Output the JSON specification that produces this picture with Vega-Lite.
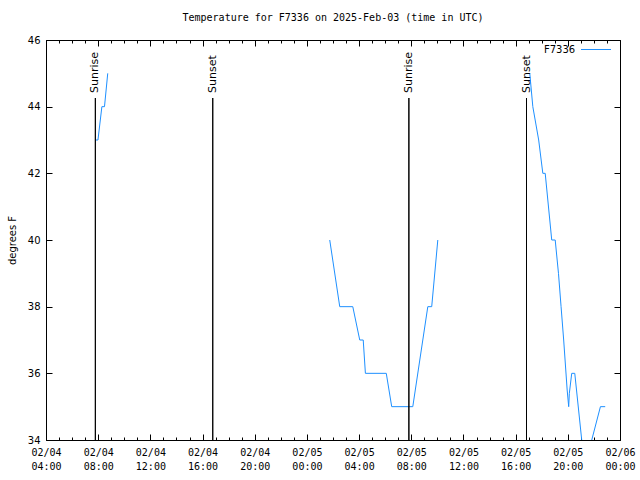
{
  "$schema": "https://vega.github.io/schema/vega-lite/v6.json",
  "width": 574,
  "height": 400,
  "autosize": "none",
  "padding": {"left": 46, "top": 40, "right": 20, "bottom": 40},
  "background": "white",
  "title": {
    "text": "Temperature for F7336 on 2025-Feb-03 (time in UTC)",
    "font": "DejaVu Sans Mono",
    "fontSize": 10,
    "fontWeight": "normal",
    "color": "black",
    "anchor": "middle",
    "offset": 11
  },
  "config": {
    "view": {"stroke": "black", "strokeWidth": 1},
    "axis": {"domain": false, "grid": false, "tickColor": "black", "labelColor": "black", "titleColor": "black"}
  },
  "datasets": {
    "temps": [
      {"seg": "a", "time": "2025-02-04T07:48:00Z", "temp": 43},
      {"seg": "a", "time": "2025-02-04T07:59:00Z", "temp": 43},
      {"seg": "a", "time": "2025-02-04T08:17:00Z", "temp": 44},
      {"seg": "a", "time": "2025-02-04T08:29:00Z", "temp": 44},
      {"seg": "a", "time": "2025-02-04T08:44:00Z", "temp": 45},
      {"seg": "b", "time": "2025-02-05T01:45:00Z", "temp": 40},
      {"seg": "b", "time": "2025-02-05T02:31:00Z", "temp": 38},
      {"seg": "b", "time": "2025-02-05T03:31:00Z", "temp": 38},
      {"seg": "b", "time": "2025-02-05T04:03:00Z", "temp": 37},
      {"seg": "b", "time": "2025-02-05T04:19:00Z", "temp": 37},
      {"seg": "b", "time": "2025-02-05T04:29:00Z", "temp": 36},
      {"seg": "b", "time": "2025-02-05T06:05:00Z", "temp": 36},
      {"seg": "b", "time": "2025-02-05T06:30:00Z", "temp": 35},
      {"seg": "b", "time": "2025-02-05T08:07:00Z", "temp": 35},
      {"seg": "b", "time": "2025-02-05T09:16:00Z", "temp": 38},
      {"seg": "b", "time": "2025-02-05T09:34:00Z", "temp": 38},
      {"seg": "b", "time": "2025-02-05T10:02:00Z", "temp": 40},
      {"seg": "c", "time": "2025-02-05T17:05:00Z", "temp": 45},
      {"seg": "c", "time": "2025-02-05T17:19:00Z", "temp": 44},
      {"seg": "c", "time": "2025-02-05T17:46:00Z", "temp": 43},
      {"seg": "c", "time": "2025-02-05T18:05:00Z", "temp": 42},
      {"seg": "c", "time": "2025-02-05T18:16:00Z", "temp": 42},
      {"seg": "c", "time": "2025-02-05T18:46:00Z", "temp": 40},
      {"seg": "c", "time": "2025-02-05T19:02:00Z", "temp": 40},
      {"seg": "c", "time": "2025-02-05T19:17:00Z", "temp": 39},
      {"seg": "c", "time": "2025-02-05T19:29:00Z", "temp": 38},
      {"seg": "c", "time": "2025-02-05T19:41:00Z", "temp": 37},
      {"seg": "c", "time": "2025-02-05T19:57:00Z", "temp": 35.5},
      {"seg": "c", "time": "2025-02-05T20:04:00Z", "temp": 35},
      {"seg": "c", "time": "2025-02-05T20:07:00Z", "temp": 35.4},
      {"seg": "c", "time": "2025-02-05T20:18:00Z", "temp": 36},
      {"seg": "c", "time": "2025-02-05T20:32:00Z", "temp": 36},
      {"seg": "c", "time": "2025-02-05T21:04:00Z", "temp": 34},
      {"seg": "c", "time": "2025-02-05T21:16:00Z", "temp": 33.8},
      {"seg": "c", "time": "2025-02-05T21:35:00Z", "temp": 33.8},
      {"seg": "c", "time": "2025-02-05T21:50:00Z", "temp": 34},
      {"seg": "c", "time": "2025-02-05T22:30:00Z", "temp": 35},
      {"seg": "c", "time": "2025-02-05T22:52:00Z", "temp": 35}
    ],
    "events": [
      {"label": "Sunrise", "time": "2025-02-04T07:47:00Z", "base": 34, "top": 44.26},
      {"label": "Sunset", "time": "2025-02-04T16:47:00Z", "base": 34, "top": 44.26},
      {"label": "Sunrise", "time": "2025-02-05T07:49:00Z", "base": 34, "top": 44.26},
      {"label": "Sunset", "time": "2025-02-05T16:50:00Z", "base": 34, "top": 44.26}
    ]
  },
  "resolve": {"axis": {"x": "independent", "y": "independent"}},
  "layer": [
    {
      "data": {"name": "temps"},
      "mark": {"type": "line", "clip": true, "strokeWidth": 1},
      "encoding": {
        "x": {
          "field": "time", "type": "temporal",
          "scale": {"type": "utc", "nice": false, "domain": [1738641600000, 1738800000000]},
          "axis": {
            "orient": "bottom", "title": null,
            "values": [1738641600000, 1738656000000, 1738670400000, 1738684800000, 1738699200000, 1738713600000, 1738728000000, 1738742400000, 1738756800000, 1738771200000, 1738785600000, 1738800000000],
            "tickSize": -6,
            "labelExpr": "[utcFormat(datum.value, '%m/%d'), utcFormat(datum.value, '%H:%M')]",
            "labelFont": "DejaVu Sans Mono", "labelFontSize": 10, "labelOverlap": false, "labelFlush": false,
            "labelPadding": 13, "labelBaseline": "top", "labelLineHeight": 14
          }
        },
        "y": {
          "field": "temp", "type": "quantitative",
          "scale": {"domain": [34, 46], "nice": false, "zero": false},
          "axis": {
            "orient": "left", "title": "degrees F", "values": [34, 36, 38, 40, 42, 44, 46],
            "tickSize": -6, "labelPadding": 12, "labelFont": "DejaVu Sans", "labelFontSize": 10,
            "titleFont": "DejaVu Sans", "titleFontSize": 10, "titleFontWeight": "normal", "titlePadding": 10
          }
        },
        "color": {
          "datum": "F7336",
          "scale": {"range": ["#1E90FF"]},
          "legend": {
            "title": null, "orient": "none", "legendX": 498, "legendY": -6, "padding": 0,
            "symbolType": "stroke", "symbolSize": 900, "symbolStrokeWidth": 1,
            "labelFont": "DejaVu Sans", "labelFontSize": 10, "labelColor": "black",
            "encode": {
              "labels": {"update": {"x": {"value": 0}, "align": {"value": "left"}}},
              "symbols": {"update": {"x": {"value": 52}}}
            }
          }
        },
        "detail": {"field": "seg"}
      }
    },
    {
      "data": {"name": "events"},
      "mark": {"type": "rule", "color": "black", "strokeWidth": 1},
      "encoding": {
        "x": {
          "field": "time", "type": "temporal",
          "axis": {
            "orient": "top", "title": null, "labels": false, "tickSize": -6,
            "values": [1738641600000, 1738656000000, 1738670400000, 1738684800000, 1738699200000, 1738713600000, 1738728000000, 1738742400000, 1738756800000, 1738771200000, 1738785600000, 1738800000000]
          }
        },
        "y": {
          "field": "base", "type": "quantitative",
          "axis": {"orient": "right", "title": null, "labels": false, "values": [34, 36, 38, 40, 42, 44, 46], "tickSize": -6}
        },
        "y2": {"field": "top"}
      }
    },
    {
      "data": {"name": "events"},
      "mark": {"type": "rule", "color": "black", "strokeWidth": 1},
      "encoding": {
        "x": {
          "field": "time", "type": "temporal",
          "axis": {
            "orient": "top", "title": null, "labels": false, "tickSize": -3,
            "values": [1738641600000, 1738645200000, 1738648800000, 1738652400000, 1738656000000, 1738659600000, 1738663200000, 1738666800000, 1738670400000, 1738674000000, 1738677600000, 1738681200000, 1738684800000, 1738688400000, 1738692000000, 1738695600000, 1738699200000, 1738702800000, 1738706400000, 1738710000000, 1738713600000, 1738717200000, 1738720800000, 1738724400000, 1738728000000, 1738731600000, 1738735200000, 1738738800000, 1738742400000, 1738746000000, 1738749600000, 1738753200000, 1738756800000, 1738760400000, 1738764000000, 1738767600000, 1738771200000, 1738774800000, 1738778400000, 1738782000000, 1738785600000, 1738789200000, 1738792800000, 1738796400000, 1738800000000]
          }
        },
        "y": {"field": "base", "type": "quantitative", "axis": null},
        "y2": {"field": "top"}
      }
    },
    {
      "data": {"name": "events"},
      "mark": {"type": "text", "angle": 270, "align": "left", "baseline": "middle", "dx": 5, "font": "DejaVu Sans", "fontSize": 11, "color": "black"},
      "encoding": {
        "x": {
          "field": "time", "type": "temporal",
          "axis": {
            "orient": "bottom", "title": null, "labels": false, "tickSize": -3,
            "values": [1738641600000, 1738645200000, 1738648800000, 1738652400000, 1738656000000, 1738659600000, 1738663200000, 1738666800000, 1738670400000, 1738674000000, 1738677600000, 1738681200000, 1738684800000, 1738688400000, 1738692000000, 1738695600000, 1738699200000, 1738702800000, 1738706400000, 1738710000000, 1738713600000, 1738717200000, 1738720800000, 1738724400000, 1738728000000, 1738731600000, 1738735200000, 1738738800000, 1738742400000, 1738746000000, 1738749600000, 1738753200000, 1738756800000, 1738760400000, 1738764000000, 1738767600000, 1738771200000, 1738774800000, 1738778400000, 1738782000000, 1738785600000, 1738789200000, 1738792800000, 1738796400000, 1738800000000]
          }
        },
        "y": {"field": "top", "type": "quantitative", "axis": null},
        "text": {"field": "label"}
      }
    }
  ]
}
